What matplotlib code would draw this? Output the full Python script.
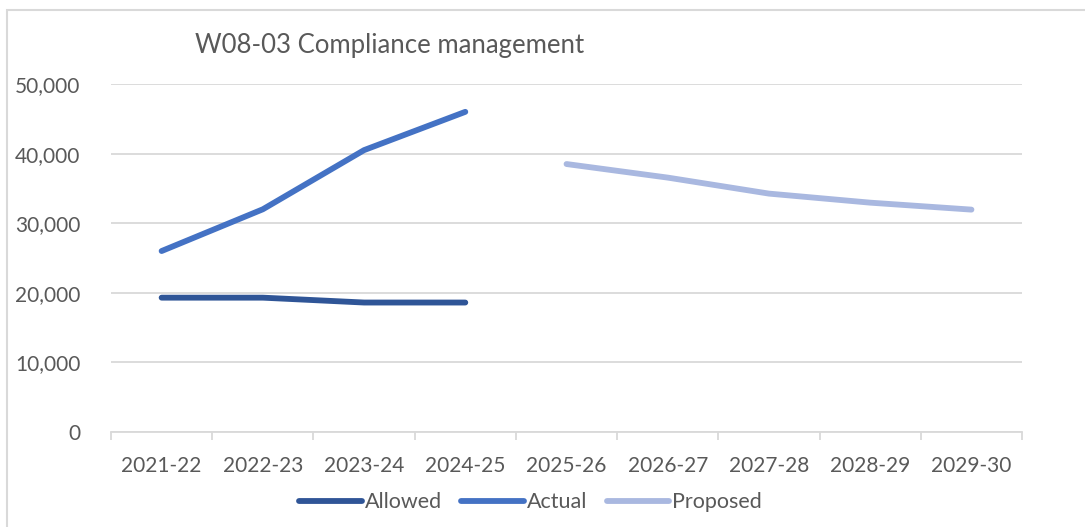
import matplotlib.pyplot as plt
from matplotlib.patches import Rectangle
from matplotlib.ticker import FuncFormatter

years = ['2021-22', '2022-23', '2023-24', '2024-25', '2025-26',
         '2026-27', '2027-28', '2028-29', '2029-30']
allowed = [19300, 19300, 18600, 18600]
actual = [26000, 32000, 40500, 46000]
proposed = [38500, 36550, 34250, 32950, 31950]

plt.rcParams['font.family'] = ['Lato', 'DejaVu Sans']
txt = '#595959'
grid = '#D9D9D9'

fig = plt.figure(figsize=(10.85, 5.27), dpi=100)
ax = fig.add_axes([0.1023, 0.1803, 0.8397, 0.6603])

x_all = list(range(len(years)))
ax.plot(x_all[:4], allowed, color='#2F5597', lw=4.2, solid_capstyle='round', label='Allowed')
ax.plot(x_all[:4], actual, color='#4472C4', lw=4.2, solid_capstyle='round', label='Actual')
ax.plot(x_all[4:], proposed, color='#A9B8E0', lw=4.2, solid_capstyle='round', label='Proposed')

ax.set_xlim(-0.5, len(years) - 0.5)
ax.set_ylim(0, 50000)
ax.set_yticks(range(0, 50001, 10000))
ax.yaxis.set_major_formatter(FuncFormatter(lambda v, p: f'{int(v):,}'))
ax.grid(axis='y', color=grid, lw=1.3)
ax.set_axisbelow(True)

ax.set_xticks(x_all)
ax.set_xticklabels(years)
ax.set_xticks([i - 0.5 for i in range(len(years) + 1)], minor=True)
ax.tick_params(axis='x', which='major', length=0, pad=17, labelsize=15, labelcolor=txt)
ax.tick_params(axis='x', which='minor', length=6, width=1.3, color=grid)
ax.tick_params(axis='y', length=0, pad=22, labelsize=15, labelcolor=txt)

for s in ['top', 'right', 'left']:
    ax.spines[s].set_visible(False)
ax.spines['bottom'].set_color(grid)
ax.spines['bottom'].set_linewidth(1.3)

fig.text(195 / 1085, 1 - 45 / 527, 'W08-03 Compliance management',
         fontsize=18.5, color=txt, ha='left', va='center')

fig.legend(loc='center', bbox_to_anchor=(0.489, 0.047), ncol=3, frameon=False,
           fontsize=15.5, labelcolor=txt, handlelength=2.9, handletextpad=0.15,
           columnspacing=0.9)

fig.patches.append(Rectangle((7 / 1085, -0.1), 1.2, 1.1 - 10 / 527,
                             transform=fig.transFigure, fill=False,
                             edgecolor=grid, lw=1.5))

fig.savefig('out.png', dpi=100)
